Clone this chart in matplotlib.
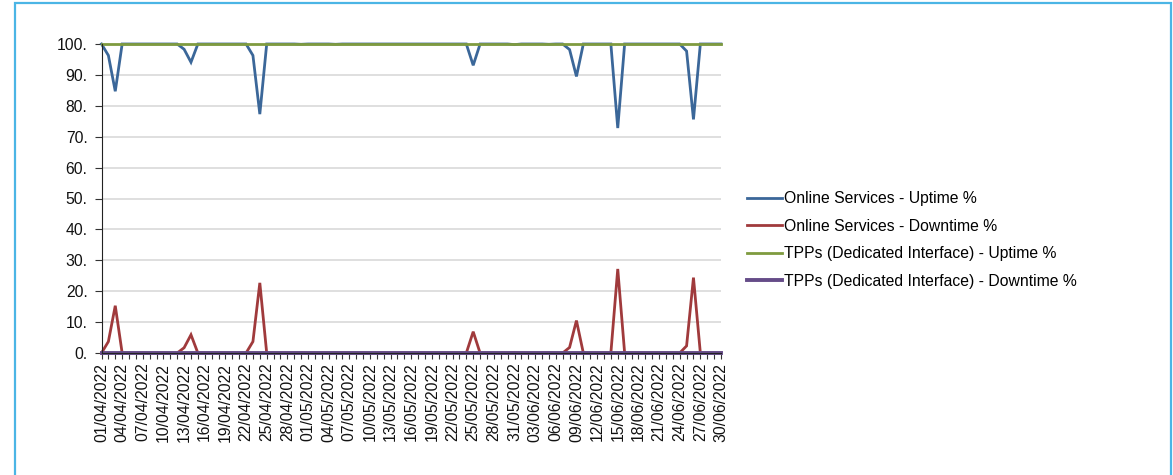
import numpy as np
import pandas as pd
import matplotlib
matplotlib.use("Agg")
import matplotlib.pyplot as plt
from matplotlib.patches import Rectangle
from matplotlib.ticker import MultipleLocator, FixedLocator, FuncFormatter

plt.rcParams['font.family'] = ['Liberation Sans', 'DejaVu Sans']

dates = pd.date_range("2022-04-01", "2022-06-30", freq="D")
date_labels = [d.strftime("%d/%m/%Y") for d in dates]

online_uptime = [
    100, 96.3, 84.7, 100, 100, 100, 100, 100, 100, 100,
    100, 100, 98.3, 94.1, 100, 100, 100, 100, 100, 100,
    100, 100, 96.3, 77.3, 100, 100, 100, 100, 100, 99.9,
    100, 100, 100, 100, 99.9, 100, 100, 100, 100, 100,
    100, 100, 100, 100, 100, 100, 100, 100, 100, 100,
    100, 100, 100, 100, 93.1, 100, 100, 100, 100, 100,
    99.8, 100, 100, 100, 100, 99.9, 100, 100, 98.2, 89.5,
    100, 100, 100, 100, 100, 72.8, 100, 100, 100, 100,
    100, 100, 100, 100, 100, 97.7, 75.6, 100, 100, 100,
    100,
]
online_downtime = [
    0, 3.7, 15.3, 0, 0, 0, 0, 0, 0, 0,
    0, 0, 1.7, 5.9, 0, 0, 0, 0, 0, 0,
    0, 0, 3.7, 22.7, 0, 0, 0, 0, 0, 0.1,
    0, 0, 0, 0, 0.1, 0, 0, 0, 0, 0,
    0, 0, 0, 0, 0, 0, 0, 0, 0, 0,
    0, 0, 0, 0, 6.9, 0, 0, 0, 0, 0,
    0.2, 0, 0, 0, 0, 0.1, 0, 0, 1.8, 10.5,
    0, 0, 0, 0, 0, 27.2, 0, 0, 0, 0,
    0, 0, 0, 0, 0, 2.3, 24.4, 0, 0, 0,
    0,
]
tpp_uptime = [100] * 91
tpp_downtime = [0] * 91

series_labels = [
    "Online Services - Uptime %",
    "Online Services - Downtime %",
    "TPPs (Dedicated Interface) - Uptime %",
    "TPPs (Dedicated Interface) - Downtime %",
]
colors = ["#3B6799", "#A03A3C", "#7F9B3F", "#654C88"]
widths = [2.0, 2.0, 2.0, 2.8]

fig = plt.figure(figsize=(11.73, 4.75), dpi=100)
ax = fig.add_axes([101.5/1173, 1-353/475, (721-101.5)/1173, (353-44)/475])

x = np.arange(len(dates))
for vals, lab, c, w in zip([online_uptime, online_downtime, tpp_uptime, tpp_downtime],
                           series_labels, colors, widths):
    ax.plot(x, vals, color=c, lw=w, label=lab, solid_joinstyle='miter', clip_on=False)

ax.set_xlim(0, 90)
ax.set_ylim(0, 100)
ax.yaxis.set_major_locator(MultipleLocator(10))
ax.yaxis.set_major_formatter(FuncFormatter(lambda v, p: f"{int(round(v))}."))
ax.tick_params(axis='y', labelsize=11.3, labelcolor="#111111")
ax.grid(axis='y', color='#D9D9D9', lw=1.2)
ax.set_axisbelow(True)

ax.set_xticks(x[::3])
ax.set_xticklabels(date_labels[::3], rotation=90, fontsize=11.3, color="#111111")
ax.xaxis.set_minor_locator(FixedLocator(x))
ax.tick_params(axis='x', which='both', length=4, width=0.8, color='#333333', pad=3)
ax.tick_params(axis='y', length=5, width=0.8, color='#333333', pad=5)

for s in ['top', 'right']:
    ax.spines[s].set_visible(False)
ax.spines['left'].set_color('#222222')
ax.spines['bottom'].set_color('#222222')

fig.legend(loc='upper left', bbox_to_anchor=(747/1173, 1-191/475), frameon=False,
           fontsize=11.3, handlelength=2.2, handletextpad=0.15, labelspacing=0.8,
           borderpad=0, borderaxespad=0)

fig.patches.append(Rectangle((15/1173, -0.05), (1171-15)/1173, 1.05-3/475,
                             transform=fig.transFigure, fill=False,
                             edgecolor='#4BB5E5', lw=1.6))

fig.savefig("out.png", dpi=100)
